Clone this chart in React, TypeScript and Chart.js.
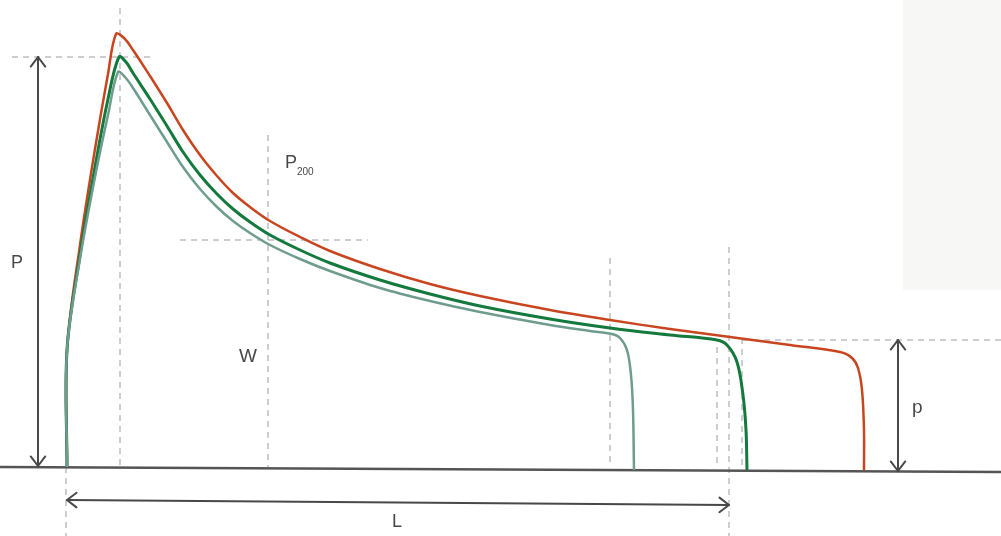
import React, { useEffect, useRef } from "react";
import { Chart, registerables } from "chart.js";

Chart.register(...registerables);

// Horizontal position (arbitrary length units) and curve height above the baseline
const redX = [67, 67, 80, 95, 108, 116, 124, 133, 150, 167, 183, 200, 217, 233, 250, 270, 300, 330, 380, 430, 480, 550, 610, 670, 730, 790, 840, 852, 858, 862, 864, 864];
const redH = [0, 117, 222, 318, 393, 433, 429, 417, 391, 364, 337, 312, 291, 274, 260, 246, 230, 216, 198, 183, 171, 157, 147, 138, 130, 122, 115, 109, 99, 77, 37, -3];

const greenX = [67, 67, 80, 95, 108, 119, 126, 133, 150, 167, 183, 200, 217, 233, 250, 270, 300, 330, 380, 430, 480, 550, 610, 670, 717, 727, 737, 743, 746, 747];
const greenH = [0, 117, 212, 300, 368, 410, 405, 394, 368, 341, 315, 292, 273, 258, 245, 232, 217, 204, 187, 173, 161, 148, 139, 132, 127, 122, 105, 72, 37, -3];

const grayX = [67, 67, 80, 95, 108, 118, 125, 133, 150, 167, 183, 200, 217, 233, 250, 270, 300, 330, 380, 430, 480, 550, 590, 612, 620, 627, 631, 633, 634];
const grayH = [0, 117, 208, 290, 352, 395, 390, 379, 352, 325, 300, 278, 260, 246, 234, 222, 208, 196, 179, 166, 155, 142, 136, 133, 129, 117, 92, 57, -3];

// Guide lines [x1, h1, x2, h2]
const guideLines = [
  [120, 459, 120, 0],
  [12, 410, 155, 410],
  [268, 332, 268, 0],
  [180, 227, 368, 227],
  [610, 209, 610, 0],
  [717, 120, 717, 0],
  [729, 220, 729, -69],
  [742, 129, 742, 0],
  [66, 0, 66, -69],
  [742, 127, 1001, 127],
];

const baseLine = [0, 0, 1001, -5];

// Double-headed arrows [x1, h1, x2, h2]
const arrows = [
  [38, 410, 38, 1],
  [898, 127, 898, -4],
  [67, -33, 729, -38],
];

// Labels [text, x, baseline h, size]
const labels: [string, number, number, number][] = [
  ["P", 11, 199, 18],
  ["W", 239, 105, 19],
  ["P", 285, 299, 18],
  ["200", 297, 292, 10],
  ["p", 912, 54, 19],
  ["L", 392, -60, 18],
];

const panelRect = [903, 467, 1001, 177];

const pts = (xs: number[], hs: number[]) => xs.map((x, i) => ({ x, y: hs[i] }));

export default function App() {
  const ref = useRef<HTMLCanvasElement>(null);
  useEffect(() => {
    if (!ref.current) return;
    const ink = "#484848";
    const decor = {
      id: "decor",
      beforeDraw(chart: any) {
        const { ctx } = chart;
        const xs = chart.scales.x, ys = chart.scales.y;
        ctx.save();
        ctx.fillStyle = "#ffffff";
        ctx.fillRect(0, 0, chart.width, chart.height);
        const x1 = xs.getPixelForValue(panelRect[0]);
        const y1 = ys.getPixelForValue(panelRect[1]);
        const x2 = xs.getPixelForValue(panelRect[2]);
        const y2 = ys.getPixelForValue(panelRect[3]);
        ctx.fillStyle = "#f7f7f6";
        ctx.fillRect(x1, y1, x2 - x1, y2 - y1);
        ctx.restore();
      },
      afterDatasetsDraw(chart: any) {
        const { ctx } = chart;
        const xs = chart.scales.x, ys = chart.scales.y;
        ctx.save();
        ctx.strokeStyle = ink;
        ctx.lineWidth = 2;
        ctx.lineCap = "round";
        ctx.lineJoin = "round";
        const head = (fx: number, fy: number, tx: number, ty: number) => {
          const a = Math.atan2(ty - fy, tx - fx);
          const len = 12, spread = 0.65;
          ctx.beginPath();
          ctx.moveTo(tx - len * Math.cos(a - spread), ty - len * Math.sin(a - spread));
          ctx.lineTo(tx, ty);
          ctx.lineTo(tx - len * Math.cos(a + spread), ty - len * Math.sin(a + spread));
          ctx.stroke();
        };
        arrows.forEach(([a, b, c, d]) => {
          const px1 = xs.getPixelForValue(a), py1 = ys.getPixelForValue(b);
          const px2 = xs.getPixelForValue(c), py2 = ys.getPixelForValue(d);
          ctx.beginPath();
          ctx.moveTo(px1, py1);
          ctx.lineTo(px2, py2);
          ctx.stroke();
          head(px1, py1, px2, py2);
          head(px2, py2, px1, py1);
        });
        ctx.fillStyle = ink;
        ctx.textBaseline = "alphabetic";
        labels.forEach(([t, x, h, s]) => {
          ctx.font = `${s}px "Liberation Sans", Arial, sans-serif`;
          ctx.fillText(t, xs.getPixelForValue(x), ys.getPixelForValue(h));
        });
        ctx.restore();
      },
    };

    const curve = (data: any, color: string, width: number) => ({
      data,
      borderColor: color,
      borderWidth: width,
      tension: 0.35,
      pointRadius: 0,
      fill: false,
      order: 1,
    });
    const dashed = guideLines.map(([a, b, c, d]) => ({
      data: [{ x: a, y: b }, { x: c, y: d }],
      borderColor: "#9c9c9c",
      borderWidth: 1,
      borderDash: [6, 5],
      tension: 0,
      pointRadius: 0,
      fill: false,
      order: 3,
    }));

    const chart = new Chart(ref.current, {
      type: "line",
      data: {
        datasets: [
          ...dashed,
          {
            data: [{ x: baseLine[0], y: baseLine[1] }, { x: baseLine[2], y: baseLine[3] }],
            borderColor: "#555555",
            borderWidth: 2.5,
            tension: 0,
            pointRadius: 0,
            fill: false,
            order: 2,
          },
          curve(pts(grayX, grayH), "#6e9c8e", 2.5),
          curve(pts(greenX, greenH), "#13793c", 3),
          curve(pts(redX, redH), "#c8461f", 2.5),
        ] as any,
      },
      options: {
        responsive: false,
        animation: false,
        devicePixelRatio: 1,
        layout: { padding: 0 },
        scales: {
          x: { type: "linear", min: 0, max: 1001, display: false },
          y: { type: "linear", min: -69, max: 467, display: false },
        },
        plugins: { legend: { display: false }, tooltip: { enabled: false } },
      },
      plugins: [decor],
    });
    return () => chart.destroy();
  }, []);

  return (
    <div style={{ position: "absolute", left: 0, top: 0, width: 1001, height: 536 }}>
      <canvas ref={ref} width={1001} height={536} />
    </div>
  );
}
